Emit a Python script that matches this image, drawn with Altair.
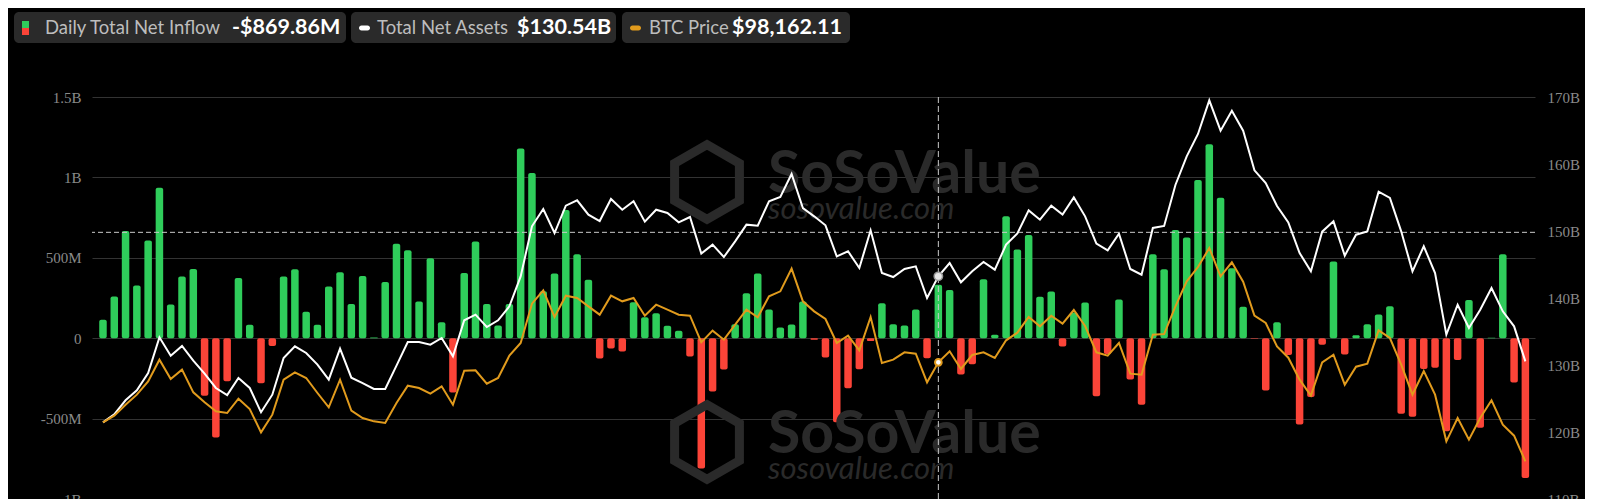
import altair as alt
import pandas as pd

# ---------------- data ----------------
flows_m = [114, 259, 667, 327, 607, 935, 209, 383, 431, -358,
           -617, -267, 375, 83, -280, -48, 383, 429, 164, 83,
           321, 410, 213, 387, 4, 350, 588, 547, 228, 497,
           99, -338, 406, 601, 213, 79, 213, 1179, 1028, 292,
           402, 798, 522, 363, -126, -64, -83, 224, 131, 155,
           77, 46, -114, -810, -331, -195, 87, 280, 402, 178,
           66, 85, 228, -10, -120, -522, -311, -193, -18, 218,
           87, 79, 178, -124, 332, 300, -226, -162, 367, 21,
           758, 551, 642, 257, 290, -52, 160, 222, -361, -99,
           240, -257, -414, 522, 429, 673, 626, 984, 1206, 874,
           435, 195, -3, -325, 99, -104, -537, -365, -41, 477,
           -102, 19, 87, 147, 199, -470, -489, -191, -184, -578,
           -135, 238, -557, 3, 522, -276, -869.86]

total_net_assets_b = [121.44, 122.64, 124.73, 126.22, 128.81, 134.13, 131.39, 132.84, 130.65, 128.71,
                      126.57, 125.52, 128.06, 126.57, 122.94, 125.57, 131.04, 132.79, 131.79, 130.05,
                      127.81, 132.44, 128.11, 127.31, 126.42, 126.42, 129.90, 133.43, 133.43, 133.03,
                      134.03, 131.29, 136.67, 137.51, 135.67, 136.67, 138.76, 143.23, 150.70, 153.28,
                      149.70, 153.78, 154.58, 152.44, 151.49, 154.78, 153.18, 154.43, 151.39, 153.18,
                      152.69, 151.29, 152.09, 146.62, 147.96, 146.12, 148.46, 150.95, 150.80, 154.43,
                      155.07, 158.51, 153.43, 152.19, 150.85, 146.22, 146.97, 144.48, 150.10, 143.73,
                      143.13, 144.33, 144.73, 140.00, 143.23, 145.22, 142.34, 143.98, 145.37, 144.23,
                      147.96, 149.65, 153.08, 151.69, 153.78, 152.44, 155.02, 152.19, 148.11, 147.11,
                      149.60, 144.33, 143.48, 150.45, 150.75, 156.87, 161.14, 164.48, 169.50, 164.98,
                      167.96, 164.98, 159.05, 157.16, 153.73, 151.29, 146.72, 143.98, 149.90, 151.44,
                      146.32, 149.45, 149.95, 155.87, 154.93, 149.95, 143.98, 147.71, 143.73, 134.53,
                      139.00, 135.52, 138.26, 141.49, 138.01, 135.77, 130.54]

btc_price = [103010, 103838, 105204, 106446, 108101, 110792, 108391, 109550, 106735, 105494,
             104376, 104169, 105949, 104666, 101768, 103962, 108308, 109219, 108515, 106653,
             104873, 108308, 104459, 103548, 103134, 102927, 105411, 107563, 107273, 106570,
             107480, 105204, 109426, 109467, 107812, 108515, 111289, 112862, 117746, 119402,
             116090, 118739, 118450, 117415, 116380, 118739, 118036, 118450, 116256, 117622,
             117001, 116380, 116256, 112944, 114393, 113275, 115138, 117001, 116049, 118657,
             119277, 122092, 118036, 116794, 115842, 112862, 113772, 111951, 116090, 110378,
             110792, 111703, 111537, 107977, 110461, 111827, 109633, 111371, 111703, 110999,
             113193, 114145, 116090, 114931, 116256, 115262, 116959, 114973, 111703, 111289,
             112862, 109053, 108929, 113896, 113979, 117415, 120519, 122299, 124659, 121140,
             122879, 120478, 116256, 115345, 112448, 111040, 108308, 106321, 110461, 111413,
             107687, 109923, 110295, 114434, 113482, 110171, 106446, 109385, 106446, 100651,
             103548, 100858, 103548, 105742, 102720, 101354, 98162.11]

flow_ticks_m = [-1000, -500, 0, 500, 1000, 1500]
tna_ticks_b = [110, 120, 130, 140, 150, 160, 170]

legend_labels = ["Daily Total Net Inflow", "Total Net Assets", "BTC Price"]
legend_values = ["-$869.86M", "$130.54B", "$98,162.11"]

crosshair_day = [75]
crosshair_level_b = [149.8]

watermark_main = "SoSoValue"
watermark_sub = "sosovalue.com"

# ---------------- styles ----------------
GREEN = "#2fcd5b"
RED = "#fb4438"
ORANGE = "#e19b1d"
WHITE = "#ffffff"
BG = "#000000"
GRID = "#333333"
AXIS_TXT = "#8a8a8a"
WM = "#2a2a2a"

W, H = 1443, 402

days = list(range(1, len(flows_m) + 1))
df = pd.DataFrame({"day": days, "flow": flows_m, "tna": total_net_assets_b, "btc": btc_price})

xscale = alt.Scale(domain=[0.47, 127.41], nice=False, zero=False)
X = alt.X("day:Q", scale=xscale, axis=None)
yflow = alt.Scale(domain=[-1000, 1500], nice=False, zero=False)
ytna = alt.Scale(domain=[110, 170], nice=False, zero=False)
ybtc = alt.Scale(domain=[93490, 143410], nice=False, zero=False)


def txt(s, x, y, **kw):
    return alt.Chart(pd.DataFrame({"t": [s]})).mark_text(**kw).encode(
        x=alt.value(x), y=alt.value(y), text="t:N")


def box(x0, x1, y0, y1, color, r=0):
    return alt.Chart(pd.DataFrame({"a": [0]})).mark_rect(color=color, cornerRadius=r).encode(
        x=alt.value(x0), x2=alt.value(x1), y=alt.value(y0), y2=alt.value(y1))


hexpath = "M0,-1L0.866,-0.5L0.866,0.5L0,1L-0.866,0.5L-0.866,-0.5Z"


def logo(x, y):
    return alt.Chart(pd.DataFrame({"a": [0]})).mark_point(
        shape=hexpath, size=5600, filled=False, strokeWidth=9, color=WM, opacity=1
    ).encode(x=alt.value(x), y=alt.value(y))


watermarks = [
    logo(615, 85), logo(615, 345),
    txt(watermark_main, 676, 96, align="left", baseline="alphabetic", font="Lato",
        fontSize=59, fontWeight="bold", color=WM),
    txt(watermark_sub, 676, 122, align="left", baseline="alphabetic", font="Lato",
        fontSize=31, fontStyle="italic", color=WM),
    txt(watermark_main, 676, 356, align="left", baseline="alphabetic", font="Lato",
        fontSize=59, fontWeight="bold", color=WM),
    txt(watermark_sub, 676, 382, align="left", baseline="alphabetic", font="Lato",
        fontSize=31, fontStyle="italic", color=WM),
]

bars = alt.Chart(df).mark_bar(size=7.5, cornerRadius=2).encode(
    x=X,
    y=alt.Y("flow:Q", scale=yflow, stack=None,
            axis=alt.Axis(orient="left", values=flow_ticks_m,
                          labelExpr="datum.value == 0 ? '0' : (abs(datum.value) >= 1000 ? (datum.value/1000) + 'B' : datum.value + 'M')",
                          grid=True, gridColor=GRID, gridWidth=1, domain=False, ticks=False,
                          labelPadding=11, labelFont="Liberation Serif", labelFontSize=15,
                          labelColor=AXIS_TXT, title=None)),
    y2=alt.datum(0),
    color=alt.condition("datum.flow >= 0", alt.value(GREEN), alt.value(RED)),
)

vrule = alt.Chart(pd.DataFrame({"day": crosshair_day})).mark_rule(
    color="#c9c9c9", strokeDash=[6, 3], strokeWidth=1).encode(x=X)

hrule = alt.Chart(pd.DataFrame({"lvl": crosshair_level_b})).mark_rule(
    color="#c9c9c9", strokeDash=[5, 3], strokeWidth=1).encode(
    y=alt.Y("lvl:Q", scale=ytna, axis=None))

tna_line = alt.Chart(df).mark_line(color=WHITE, strokeWidth=2).encode(
    x=X,
    y=alt.Y("tna:Q", scale=ytna,
            axis=alt.Axis(orient="right", values=tna_ticks_b, labelExpr="datum.value + 'B'",
                          grid=False, domain=False, ticks=False, labelPadding=12,
                          labelFont="Liberation Serif", labelFontSize=15, labelColor=AXIS_TXT,
                          title=None)),
)

btc_line = alt.Chart(df).mark_line(color=ORANGE, strokeWidth=2).encode(
    x=X, y=alt.Y("btc:Q", scale=ybtc, axis=None))

sel = df[df["day"].isin(crosshair_day)]
tna_pt = alt.Chart(sel).mark_point(filled=True, size=70, color="#e6e6e6", stroke="#9a9a9a",
                                   strokeWidth=1.5, opacity=1).encode(
    x=X, y=alt.Y("tna:Q", scale=ytna, axis=None))
btc_pt = alt.Chart(sel).mark_point(filled=True, size=45, fill="#ffffff", stroke=ORANGE,
                                   strokeWidth=2, opacity=1).encode(
    x=X, y=alt.Y("btc:Q", scale=ybtc, axis=None))

# legend (header pills)
LY0, LY1, LYC = -85, -54, -69
legend = [
    box(-78, 254, LY0, LY1, "#2a2a2a", 5),
    box(259, 524, LY0, LY1, "#2a2a2a", 5),
    box(530, 758, LY0, LY1, "#2a2a2a", 5),
    box(-70, -63, -76, -69, GREEN),
    box(-70, -63, -69, -62, RED),
    box(267, 278, -71.5, -66.5, WHITE, 2.5),
    box(538, 549, -71.5, -66.5, ORANGE, 2.5),
    txt(legend_labels[0], -47, LYC, align="left", baseline="middle", font="Lato", fontSize=18.5, color="#bdbdbd"),
    txt(legend_values[0], 140, LYC, align="left", baseline="middle", font="Lato", fontSize=21.5, fontWeight="bold", color=WHITE),
    txt(legend_labels[1], 285, LYC, align="left", baseline="middle", font="Lato", fontSize=18.5, color="#bdbdbd"),
    txt(legend_values[1], 425, LYC, align="left", baseline="middle", font="Lato", fontSize=21.5, fontWeight="bold", color=WHITE),
    txt(legend_labels[2], 557, LYC, align="left", baseline="middle", font="Lato", fontSize=18.5, color="#bdbdbd"),
    txt(legend_values[2], 640, LYC, align="left", baseline="middle", font="Lato", fontSize=21.5, fontWeight="bold", color=WHITE),
]

chart = alt.layer(
    bars, *watermarks, vrule, hrule, tna_line, btc_line, tna_pt, btc_pt, *legend
).resolve_scale(y="independent").properties(
    width=W, height=H,
    autosize=alt.AutoSizeParams(type="none"),
    padding={"left": 84, "top": 89, "right": 50, "bottom": 0},
).configure(background=BG).configure_view(stroke=None)

chart.save("out.html", embed_options={"renderer": "svg", "actions": False})
